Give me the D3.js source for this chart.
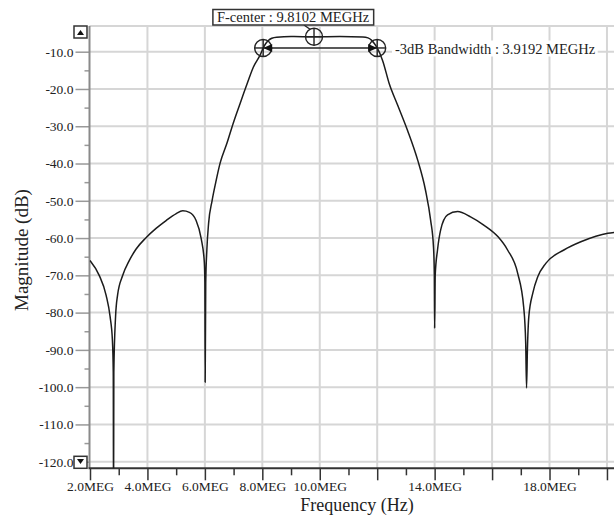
<!DOCTYPE html>
<html>
<head>
<meta charset="utf-8">
<script src="https://cdn.jsdelivr.net/npm/d3@7"></script>
<style>
  body { margin: 0; background: #fff; }
  svg { display: block; font-family: "Liberation Serif", "Times New Roman", serif; }
</style>
</head>
<body>
<div id="chart"></div>
<script>
// Data: frequency in MHz, magnitude in dB
const freq = [
  2.0, 2.32, 2.56, 2.70, 2.78, 2.81, 2.82, 2.83, 2.89, 2.96, 3.14, 3.37, 3.6, 3.95,
  4.30, 4.65, 4.99, 5.23, 5.46, 5.69, 5.87, 5.98, 6.0, 6.01, 6.03, 6.07, 6.13, 6.25, 6.38,
  6.53, 6.77, 6.99, 7.23, 7.48, 7.69, 7.93, 8.03, 8.12, 8.21, 8.33, 8.5, 9.0, 9.8,
  10.7, 11.5, 11.68, 11.8, 11.9, 12.0, 12.19, 12.42, 12.71, 13.06, 13.41, 13.68, 13.86,
  13.96, 13.99, 14.0, 14.02, 14.1, 14.21, 14.45, 14.8, 15.25, 15.71, 16.2, 16.54, 16.89,
  17.1, 17.17, 17.2, 17.23, 17.28, 17.42, 17.59, 17.87, 18.5, 19.09, 20.03, 20.25
];
const magnitude = [
  -66, -70, -75.3, -81.1, -87.4, -96.2, -135, -96, -81.1, -75.3, -70, -66, -63, -59.9,
  -57.4, -55.3, -53.5, -52.7, -53.1, -55.2, -60.1, -66.4, -72, -98.7, -72, -63, -56, -50, -45,
  -39.9, -34.5, -29.1, -23.8, -18.4, -14.1, -10.8, -9.0, -7.8, -7.0, -6.4, -6.1, -5.95, -6.0,
  -5.95, -6.05, -6.3, -6.9, -7.8, -9.0, -12.4, -18.6, -24.3, -31.2, -39.1, -47.1, -55.2,
  -62.4, -70, -84.2, -70, -63.2, -57.8, -53.8, -52.9, -54.3, -56.5, -59.6, -63.2, -69.4,
  -78.5, -88, -100.2, -90, -81, -74.7, -70.4, -66.8, -63.2, -61, -58.7, -58.5
];

const xMajor = d3.range(2, 21, 2);
const xMinor = d3.range(3, 21, 2);
const xLabelled = [2, 4, 6, 8, 10, 14, 18];
const yMajor = d3.range(-10, -121, -10);
const yMinor = d3.range(-15, -120, -10);

// markers
const fLow = 8.03, fHigh = 12.0, fCenter = 9.8;
const levelEdge = -9.0, levelCenter = -6.0;
const centerText = "F-center : 9.8102 MEGHz";
const bwText = "-3dB Bandwidth : 3.9192 MEGHz";

const W = 614, H = 515;
const pLeft = 89.5, pTop = 26, pRight = 614, pBottom = 468.3;

const x = d3.scaleLinear().domain([2, 2 + (pRight - 90) / 28.72]).range([90, pRight]);
const y = d3.scaleLinear().domain([-120, -10]).range([461.7, 51.7]);

const svg = d3.select("#chart").append("svg")
  .attr("width", W).attr("height", H);

svg.append("defs").append("clipPath").attr("id", "plot")
  .append("rect")
    .attr("x", pLeft).attr("y", pTop)
    .attr("width", pRight - pLeft).attr("height", pBottom - pTop);

// grid
const grid = svg.append("g").attr("stroke", "#d6d6d6").attr("stroke-width", 2);
grid.selectAll("line.v").data(xMajor.filter(d => d > 2)).enter().append("line")
  .attr("x1", d => x(d)).attr("x2", d => x(d))
  .attr("y1", pTop).attr("y2", pBottom);
grid.selectAll("line.h").data(yMajor).enter().append("line")
  .attr("x1", pLeft).attr("x2", pRight)
  .attr("y1", d => y(d)).attr("y2", d => y(d));
grid.append("line")
  .attr("x1", pLeft).attr("x2", pRight).attr("y1", pTop).attr("y2", pTop);

// axes
const yAxis = svg.append("g")
  .attr("transform", `translate(${pLeft},0)`)
  .call(d3.axisLeft(y).tickValues(yMajor).tickSize(14).tickPadding(2)
    .tickFormat(d => d.toFixed(1)));
yAxis.select(".domain").remove();
yAxis.selectAll(".tick line").attr("stroke", "#999").attr("stroke-width", 1.5);
yAxis.selectAll("text").attr("font-size", 13.5).attr("fill", "#222")
  .attr("font-family", "Liberation Serif, serif");

const yMin = svg.append("g")
  .attr("transform", `translate(${pLeft},0)`)
  .call(d3.axisLeft(y).tickValues(yMinor).tickSize(5).tickFormat(""));
yMin.select(".domain").remove();
yMin.selectAll(".tick line").attr("stroke", "#999").attr("stroke-width", 1.5);

svg.append("line")
  .attr("x1", pLeft).attr("x2", pLeft).attr("y1", pTop).attr("y2", pBottom)
  .attr("stroke", "#8a8a8a").attr("stroke-width", 2);

const xAxis = svg.append("g")
  .attr("transform", `translate(0,${pBottom})`)
  .call(d3.axisBottom(x).tickValues(xMajor).tickSize(12).tickPadding(1)
    .tickFormat(d => xLabelled.includes(d) ? d.toFixed(1) + "MEG" : ""));
xAxis.select(".domain").remove();
xAxis.selectAll(".tick line").attr("stroke", "#333").attr("stroke-width", 1.5);
xAxis.selectAll("text").attr("font-size", 13.5).attr("fill", "#222")
  .attr("font-family", "Liberation Serif, serif");

const xMin = svg.append("g")
  .attr("transform", `translate(0,${pBottom})`)
  .call(d3.axisBottom(x).tickValues(xMinor).tickSize(7).tickFormat(""));
xMin.select(".domain").remove();
xMin.selectAll(".tick line").attr("stroke", "#333").attr("stroke-width", 1.5);

svg.append("line")
  .attr("x1", pLeft - 1).attr("x2", pRight).attr("y1", pBottom).attr("y2", pBottom)
  .attr("stroke", "#333").attr("stroke-width", 2);

// axis titles
svg.append("text")
  .attr("x", 357).attr("y", 511)
  .attr("text-anchor", "middle").attr("font-size", 18).attr("fill", "#222")
  .text("Frequency (Hz)");
svg.append("text")
  .attr("transform", "translate(28,250) rotate(-90)")
  .attr("text-anchor", "middle").attr("font-size", 19).attr("fill", "#222")
  .text("Magnitude (dB)");

// scroll buttons
[[pTop, "M77,35 L84,35 L80.5,30 Z"], [pBottom - 12, "M77,459 L84,459 L80.5,464 Z"]]
  .forEach(([by, tri]) => {
    svg.append("rect").attr("x", 74).attr("y", by).attr("width", 13).attr("height", 12)
      .attr("fill", "#fff").attr("stroke", "#333").attr("stroke-width", 1.5);
    svg.append("path").attr("d", tri).attr("fill", "#111");
  });

// response curve
const pts = freq.map((f, i) => [f, magnitude[i]]);
svg.append("path")
  .datum(pts)
  .attr("clip-path", "url(#plot)")
  .attr("fill", "none")
  .attr("stroke", "#1c1c1c")
  .attr("stroke-width", 1.5)
  .attr("stroke-linejoin", "round")
  .attr("d", d3.line().curve(d3.curveMonotoneX).x(d => x(d[0])).y(d => y(d[1])));

// annotations
const ann = svg.append("g").attr("stroke", "#222").attr("fill", "none").attr("stroke-width", 1.4);
const lx = x(fLow), hx = x(fHigh), ey = y(levelEdge);
const cx = x(fCenter), cy = y(levelCenter);

// bandwidth arrow
ann.append("line").attr("x1", lx + 8).attr("x2", hx - 8).attr("y1", ey).attr("y2", ey);
svg.append("path")
  .attr("d", `M${lx},${ey} l9,-4 l0,8 Z M${hx},${ey} l-9,-4 l0,8 Z`)
  .attr("fill", "#111");

// marker circles
[[lx, ey], [hx, ey], [cx, cy]].forEach(([mx, my]) => {
  ann.append("circle").attr("cx", mx).attr("cy", my).attr("r", 8.5);
  ann.append("line").attr("x1", mx).attr("x2", mx).attr("y1", my - 8.5).attr("y2", my + 8.5);
  ann.append("line").attr("x1", mx - 8.5).attr("x2", mx + 8.5).attr("y1", my).attr("y2", my);
});

// F-center label box
const ct = svg.append("text")
  .attr("x", 293).attr("y", 22)
  .attr("text-anchor", "middle").attr("font-size", 14.5).attr("fill", "#222")
  .text(centerText);
const cb = ct.node().getBBox();
svg.insert("rect", () => ct.node())
  .attr("x", cb.x - 4).attr("y", 9.5)
  .attr("width", cb.width + 8).attr("height", 15.5)
  .attr("fill", "#fff").attr("stroke", "#333").attr("stroke-width", 1.5);
ann.append("line").attr("x1", 304).attr("y1", 25).attr("x2", cx - 4).attr("y2", cy - 7.5);

// bandwidth label
const bt = svg.append("text")
  .attr("x", 395).attr("y", 53.5)
  .attr("font-size", 14.5).attr("fill", "#222")
  .text(bwText);
const bb = bt.node().getBBox();
svg.insert("rect", () => bt.node())
  .attr("x", bb.x - 3).attr("y", bb.y)
  .attr("width", bb.width + 5).attr("height", bb.height)
  .attr("fill", "#fff");
</script>
</body>
</html>
